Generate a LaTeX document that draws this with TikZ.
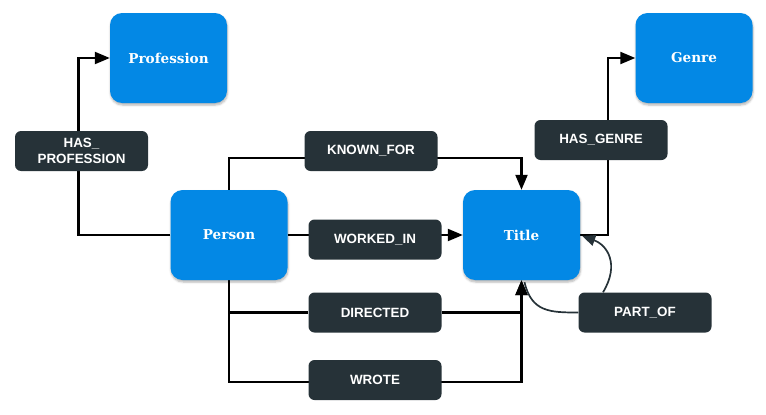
\documentclass[tikz,border=0pt]{standalone}
\usepackage{fontspec}
\setmainfont{Liberation Sans}
\newfontfamily\slabfont{DejaVu Serif}
\usetikzlibrary{arrows.meta,shadows.blur,calc,backgrounds}
\definecolor{entityblue}{RGB}{3,136,229}
\definecolor{slate}{RGB}{38,50,56}
\begin{document}
\begin{tikzpicture}
[x=1pt,y=-1pt,
entity/.style={rectangle,rounded corners=12pt,fill=entityblue,text=white,minimum width=117pt,minimum height=90pt,font=\slabfont\bfseries\fontsize{13.6}{15}\selectfont,blur shadow={shadow xshift=0.5pt,shadow yshift=-2pt,shadow opacity=30,shadow blur steps=5}},
relation/.style={rectangle,rounded corners=6pt,fill=slate,text=white,minimum width=133pt,minimum height=40pt,align=center,font=\bfseries\fontsize{13.4}{16.5}\selectfont},
link/.style={draw=black,line width=2.2pt,-{Triangle[length=15pt,width=12pt]}},
loopline/.style={draw=slate,line width=1.7pt}]
\useasboundingbox (0,0) rectangle (766,415);
% entities
\node[entity] (profession) at (168.5,58) {Profession};
\node[entity] (genre) at (694,58) {Genre};
\node[entity] (person) at (229,235) {Person};
\node[entity] (title) at (521.5,235) {Title};
% relations
\node[relation] (hasprofession) at (81.5,151) {HAS\_\\PROFESSION};
\node[relation] (knownfor) at (371,151) {KNOWN\_FOR};
\node[relation] (workedin) at (375,239.5) {WORKED\_IN};
\node[relation] (directed) at (375,312.5) {DIRECTED};
\node[relation] (wrote) at (375,380) {WROTE};
\node[relation] (hasgenre) at (601,140) {HAS\_GENRE};
\node[relation] (partof) at (645,312.5) {PART\_OF};
% connectors
\begin{scope}[on background layer]
\draw[link] (person.west) -| ($(hasprofession)+(-3,0)$) |- (profession.west);
\draw[link] (person.north) |- ($(knownfor)+(0,7)$) -| (title.north);
\draw[link] (person.east) -- (title.west);
\draw[link] (person.south) |- (directed) -| (title.south);
\draw[link] (person.south) |- ($(wrote)+(0,2)$) -| (title.south);
\draw[link] (title.east) -| ($(hasgenre)+(7,0)$) |- (genre.west);
\draw[loopline] ($(title.south)+(3,2)$) .. controls ($(title.south)+(10,32)$) and ($(partof.west)+(-28,0)$) .. (partof.west);
\draw[loopline,-{Triangle[length=13pt,width=11pt]}] ($(partof.north)+(-42,0)$) .. controls ($(partof.north)+(-25,-28)$) and ($(title.east)+(27,10)$) .. ($(title.east)+(2,1)$);
\end{scope}
\end{tikzpicture}
\end{document}
